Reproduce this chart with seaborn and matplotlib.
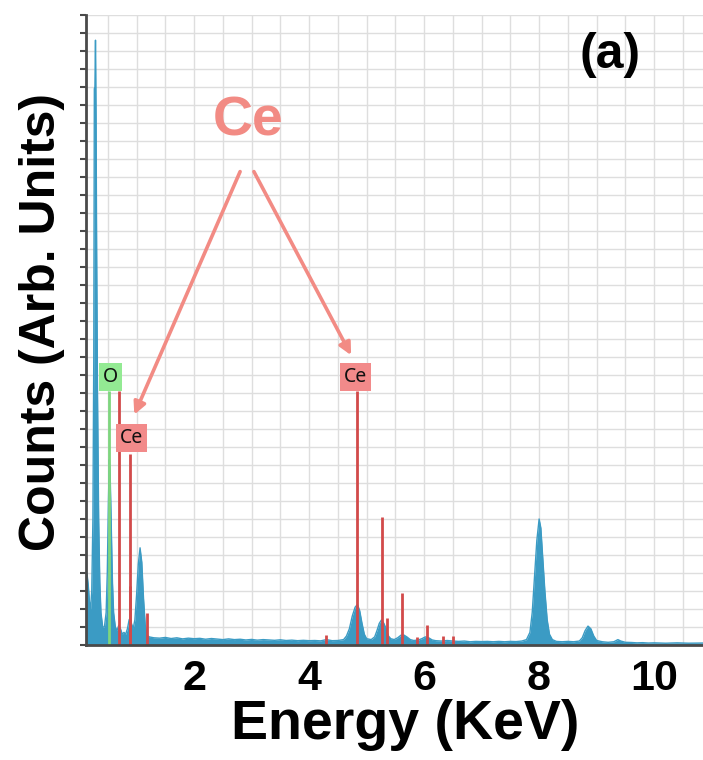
import numpy as np
import pandas as pd
import matplotlib
matplotlib.use("Agg")
import matplotlib.pyplot as plt
from matplotlib import font_manager
import seaborn as sns

# ---------------- data ----------------
energy_keV = [0.12, 0.14, 0.16, 0.18, 0.20, 0.22, 0.24, 0.255, 0.265, 0.275, 0.285, 0.295,
              0.305, 0.32, 0.34, 0.36, 0.38, 0.41, 0.44, 0.47, 0.49, 0.51, 0.525, 0.54,
              0.56, 0.58, 0.60, 0.63, 0.66, 0.69, 0.72, 0.75, 0.78, 0.81, 0.84, 0.87,
              0.89, 0.91, 0.94, 0.97, 1.00, 1.03, 1.06, 1.09, 1.12, 1.15, 1.18,
              1.22, 1.3, 1.4, 1.5, 1.6, 1.7, 1.8, 1.9, 2.0, 2.1, 2.2, 2.3, 2.4, 2.5,
              2.6, 2.7, 2.8, 2.9, 3.0, 3.1, 3.2, 3.3, 3.4, 3.5, 3.6, 3.7, 3.8, 3.9,
              4.0, 4.1, 4.2, 4.3, 4.4, 4.5, 4.6, 4.65, 4.7, 4.75, 4.8, 4.84, 4.88,
              4.92, 4.96, 5.0, 5.08, 5.14, 5.18, 5.22, 5.26, 5.3, 5.34, 5.38, 5.42,
              5.48, 5.54, 5.6, 5.65, 5.7, 5.76, 5.82, 5.9, 5.96, 6.02, 6.08, 6.14,
              6.2, 6.3, 6.4, 6.5, 6.6, 6.7, 6.8, 6.9, 7.0, 7.1, 7.2, 7.3, 7.4, 7.5,
              7.6, 7.7, 7.78, 7.84, 7.88, 7.92, 7.96, 8.0, 8.03, 8.06, 8.1, 8.14,
              8.18, 8.23, 8.3, 8.4, 8.5, 8.6, 8.7, 8.75, 8.8, 8.85, 8.9, 8.95, 9.0,
              9.1, 9.2, 9.3, 9.37, 9.42, 9.5, 9.6, 9.7, 9.8, 9.9, 10.0, 10.2, 10.4,
              10.6, 10.85]
counts = [4.1, 3.9, 3.3, 2.4, 2.0, 3.0, 7.0, 16.0, 30.9, 31.0, 33.6, 29.3,
          22.0, 14.0, 7.0, 3.5, 1.8, 1.0, 1.0, 1.8, 4.0, 8.0, 10.3, 9.5,
          6.5, 3.5, 1.8, 1.0, 0.8, 1.1, 0.9, 0.6, 0.7, 0.6, 0.9, 1.4,
          1.5, 1.2, 0.9, 1.4, 2.8, 4.5, 5.4, 4.6, 2.6, 1.1, 0.55,
          0.45, 0.4, 0.38, 0.42, 0.36, 0.4, 0.34, 0.38, 0.35, 0.37, 0.32, 0.36, 0.33, 0.3,
          0.34, 0.3, 0.32, 0.28, 0.31, 0.27, 0.3, 0.28, 0.26, 0.29, 0.25, 0.27, 0.24, 0.26,
          0.24, 0.25, 0.23, 0.3, 0.24, 0.25, 0.3, 0.5, 0.9, 1.6, 2.1, 2.25, 1.9,
          1.2, 0.6, 0.35, 0.3, 0.45, 0.8, 1.2, 1.4, 1.2, 0.9, 0.5, 0.35,
          0.3, 0.4, 0.55, 0.55, 0.45, 0.3, 0.25, 0.28, 0.35, 0.45, 0.4, 0.28,
          0.24, 0.22, 0.25, 0.22, 0.2, 0.22, 0.18, 0.2, 0.19, 0.2, 0.18, 0.2, 0.18, 0.2,
          0.19, 0.22, 0.3, 0.7, 1.8, 3.8, 5.8, 7.0, 6.5, 5.0, 3.0, 1.4,
          0.6, 0.3, 0.2, 0.18, 0.2, 0.18, 0.22, 0.4, 0.8, 1.05, 0.9, 0.5, 0.25,
          0.18, 0.15, 0.18, 0.3, 0.22, 0.15, 0.14, 0.12, 0.13, 0.11, 0.12, 0.1, 0.12,
          0.1, 0.11]

ce_line_keV = [0.696, 0.883, 0.883, 1.18, 4.30, 4.84, 5.26, 5.36, 5.61, 5.88, 6.05, 6.33, 6.50]
ce_line_height = [14.1, 10.6, 3.3, 1.8, 0.55, 14.1, 7.1, 1.5, 2.9, 0.45, 1.1, 0.5, 0.5]
o_line_keV = [0.525]
o_line_height = [14.1]

xtick_values = [2, 4, 6, 8, 10]
xtick_labels = ["2", "4", "6", "8", "10"]

# ---------------- style ----------------
sns.set_theme(style="white")
names = {f.name for f in font_manager.fontManager.ttflist}
main_font = "Liberation Sans" if "Liberation Sans" in names else "DejaVu Sans"
tick_font = "Liberation Sans Narrow" if "Liberation Sans Narrow" in names else main_font
tick_size = 34 if tick_font == "Liberation Sans Narrow" else 31
plt.rcParams["font.family"] = [main_font, "DejaVu Sans"]

blue = "#3b9bc4"
red = "#d24a4a"
green = "#7ed67e"
pink = "#f28b84"
grid_c = "#dedede"
spine_c = "#4a4a4a"

W, H = 703, 760
fig = plt.figure(figsize=(W / 100, H / 100), dpi=100)
fig.patch.set_facecolor("white")
ax = fig.add_axes([86 / W, (H - 645) / H, (W - 86) / W, (645 - 15) / H])
ax.set_facecolor("white")

df = pd.DataFrame({"Energy": energy_keV, "Counts": counts})
ax.fill_between(df["Energy"], 0, df["Counts"], color=blue, linewidth=0, zorder=3)
sns.lineplot(data=df, x="Energy", y="Counts", ax=ax, color=blue, linewidth=1.0,
             zorder=4, estimator=None, sort=False)

ax.vlines(o_line_keV, 0, o_line_height, colors=green, linewidth=2.0, zorder=5)
ax.vlines(ce_line_keV, 0, ce_line_height, colors=red, linewidth=2.0, zorder=5)

ax.set_xlim(0.12, 10.85)
ax.set_ylim(0, 35)

ax.set_xticks(xtick_values)
ax.set_xticklabels(xtick_labels)
ax.set_xticks(np.arange(0.5, 10.85, 0.5), minor=True)
ax.set_yticks(np.arange(0, 36, 1))
ax.set_yticklabels([])

ax.grid(True, which="minor", axis="x", color=grid_c, linewidth=1.0, zorder=0)
ax.grid(True, which="major", axis="x", color=grid_c, linewidth=1.0, zorder=0)
ax.grid(True, which="major", axis="y", color=grid_c, linewidth=1.0, zorder=0)
ax.set_axisbelow(True)

for s in ["top", "right"]:
    ax.spines[s].set_visible(False)
for s in ["left", "bottom"]:
    ax.spines[s].set_color(spine_c)
    ax.spines[s].set_linewidth(2.0)
    ax.spines[s].set_zorder(6)

ax.tick_params(axis="x", which="major", direction="out", length=6, width=1.5,
               color=spine_c, pad=4, labelsize=tick_size)
ax.tick_params(axis="x", which="minor", direction="out", length=4, width=1.2,
               color=spine_c)
ax.tick_params(axis="y", which="major", direction="out", length=4, width=1.5,
               color=spine_c, left=True)
for lbl in ax.get_xticklabels():
    lbl.set_fontfamily(tick_font)
    lbl.set_fontweight("bold")
    lbl.set_color("black")

ax.set_xlabel("Energy (KeV)", fontsize=40, fontweight="bold", color="black")
ax.set_ylabel("Counts (Arb. Units)", fontsize=36, fontweight="bold", color="black")
ax.xaxis.set_label_coords(0.517, -0.085)
ax.yaxis.set_label_coords(-0.034, 0.513)

# element tags
tag_font = ["Noto Sans", "DejaVu Sans"]
ax.text(0.54, 14.9, "O", fontsize=14, family=tag_font, ha="center", va="center",
        color="#111111", zorder=7,
        bbox=dict(boxstyle="square,pad=0.2", facecolor="#93ea93", edgecolor="none"))
ax.text(0.91, 11.5, "Ce", fontsize=14, family=tag_font, ha="center", va="center",
        color="#111111", zorder=7,
        bbox=dict(boxstyle="square,pad=0.2", facecolor="#f28a8a", edgecolor="none"))
ax.text(4.81, 14.9, "Ce", fontsize=14, family=tag_font, ha="center", va="center",
        color="#111111", zorder=7,
        bbox=dict(boxstyle="square,pad=0.2", facecolor="#f28a8a", edgecolor="none"))

# big Ce annotation with arrows
ax.text(2.94, 29.1, "Ce", fontsize=40, fontweight="bold", color=pink,
        ha="center", va="center", zorder=7)
arrow_kw = dict(arrowstyle="-|>,head_length=0.6,head_width=0.3", color=pink,
                linewidth=2.6, shrinkA=0, shrinkB=0)
ax.annotate("", xy=(0.96, 12.8), xytext=(2.80, 26.3), arrowprops=arrow_kw, zorder=7)
ax.annotate("", xy=(4.73, 16.1), xytext=(3.04, 26.3), arrowprops=arrow_kw, zorder=7)

ax.text(9.24, 32.8, "(a)", fontsize=36, fontweight="bold", color="black",
        ha="center", va="center", zorder=7)

fig.savefig("out.png", dpi=100, facecolor="white")
